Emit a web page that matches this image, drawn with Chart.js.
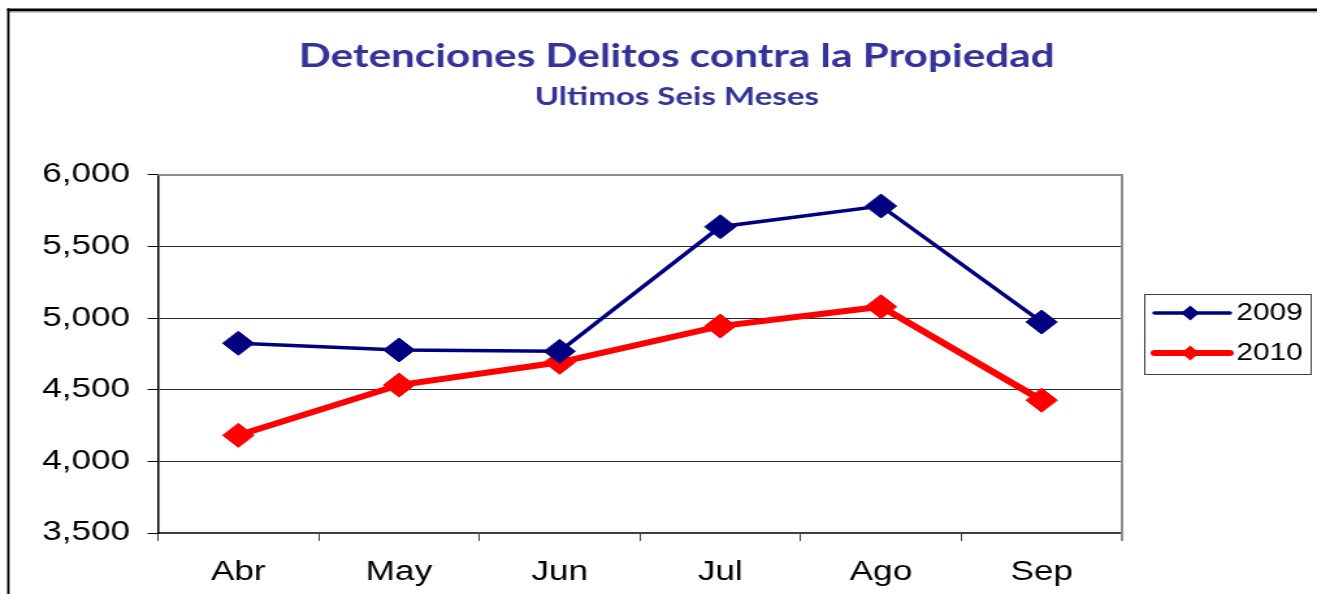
<!DOCTYPE html>
<html>
<head>
<meta charset="utf-8">
<script src="https://cdn.jsdelivr.net/npm/chart.js@4/dist/chart.umd.min.js"></script>
<style>
  html, body { margin: 0; padding: 0; background: #fff; overflow: hidden; }
  /* the original picture is stretched sideways, so the chart is drawn narrower and widened */
  #wrap { width: 1013px; height: 594px; transform: scaleX(1.3001); transform-origin: 0 0; }
</style>
</head>
<body>
<div id="wrap"><canvas id="chart"></canvas></div>
<script>
const months = ["Abr", "May", "Jun", "Jul", "Ago", "Sep"];
const values2009 = [4825, 4778, 4769, 5639, 5783, 4973];
const values2010 = [4182, 4533, 4692, 4945, 5080, 4427];
const seriesNames = ["2009", "2010"];
const yMin = 3500;
const yMax = 6000;
const yStep = 500;

const titleText = "Detenciones Delitos contra la Propiedad";
const subtitleText = "Ultimos Seis Meses";

const frame = {
  id: "frame",
  beforeDraw(chart) {
    const c = chart.ctx;
    c.save();
    c.fillStyle = "#fff";
    c.fillRect(0, 0, chart.width, chart.height);
    // outer border (only top and left show in the picture)
    c.fillStyle = "#9a9a9a";
    c.fillRect(6, 11, chart.width, 1.5);
    c.fillStyle = "#000";
    c.fillRect(5.5, 8.5, chart.width, 2.5);
    c.fillRect(5.5, 8.5, 1.8, chart.height);
    c.restore();
  },
  afterDraw(chart) {
    const c = chart.ctx;
    const a = chart.chartArea;
    c.save();
    c.strokeStyle = "#8c8c8c";
    c.lineWidth = 2;
    c.beginPath();
    c.moveTo(a.left, a.top);
    c.lineTo(a.right, a.top);
    c.lineTo(a.right, a.bottom + 8);
    c.stroke();

    // legend box
    c.strokeStyle = "#404040";
    c.lineWidth = 1;
    c.strokeRect(880.5, 294.5, 128, 80);
    const rows = [313, 353];
    chart.data.datasets.forEach((ds, i) => {
      const y = rows[i];
      c.strokeStyle = ds.borderColor;
      c.lineWidth = ds.borderWidth;
      c.lineCap = "round";
      c.beginPath();
      c.moveTo(888, y);
      c.lineTo(946, y);
      c.stroke();
      c.fillStyle = ds.pointBackgroundColor;
      c.beginPath();
      c.moveTo(915.5 - 7, y);
      c.lineTo(915.5, y - 7.5);
      c.lineTo(915.5 + 7, y);
      c.lineTo(915.5, y + 7.5);
      c.closePath();
      c.fill();
      c.fillStyle = "#000";
      c.font = "23px 'Liberation Sans', Arial, sans-serif";
      c.textBaseline = "middle";
      c.textAlign = "left";
      c.fillText(ds.label, 951, y + 1);
    });
    c.restore();
  }
};

new Chart(document.getElementById("chart"), {
  type: "line",
  data: {
    labels: months,
    datasets: [
      {
        label: seriesNames[0],
        data: values2009,
        borderColor: "#000080",
        backgroundColor: "#000080",
        pointBackgroundColor: "#000080",
        pointBorderColor: "#000080",
        borderWidth: 3.5,
        pointStyle: "rectRot",
        pointRadius: 12,
        pointBorderWidth: 1,
        tension: 0
      },
      {
        label: seriesNames[1],
        data: values2010,
        borderColor: "#ff0000",
        backgroundColor: "#ff0000",
        pointBackgroundColor: "#ff0000",
        pointBorderColor: "#ff0000",
        borderWidth: 6,
        pointStyle: "rectRot",
        pointRadius: 12,
        pointBorderWidth: 1,
        tension: 0
      }
    ]
  },
  options: {
    responsive: true,
    maintainAspectRatio: false,
    animation: false,
    layout: { padding: { left: 28, right: 0, top: 0, bottom: 0 } },
    plugins: {
      legend: { display: false },
      tooltip: { enabled: false },
      title: {
        display: true,
        text: titleText,
        color: "#333399",
        font: { family: "Lato", size: 32.5, weight: "bold", lineHeight: 1.2 },
        padding: { top: 37.2, bottom: 0 }
      },
      subtitle: {
        display: true,
        text: subtitleText,
        color: "#333399",
        font: { family: "Lato", size: 25.4, weight: "bold", lineHeight: 1.2 },
        padding: { top: 5.5, bottom: 62.8 }
      }
    },
    scales: {
      x: {
        offset: true,
        afterFit(scale) { scale.height = 61; },
        grid: {
          offset: true,
          drawOnChartArea: false,
          drawTicks: true,
          tickLength: 8,
          tickColor: "#404040"
        },
        border: { display: true, color: "#404040", width: 2 },
        ticks: {
          color: "#000",
          padding: 15,
          font: { family: "'Liberation Sans', Arial, sans-serif", size: 27 }
        }
      },
      y: {
        min: yMin,
        max: yMax,
        afterFit(scale) { scale.width = 93.5; },
        grid: {
          color: (ctx) => (ctx.tick && ctx.tick.value === yMax ? "#8c8c8c" : "#2b2b2b"),
          lineWidth: 1,
          drawTicks: true,
          tickLength: 8,
          tickColor: "#000"
        },
        border: { display: true, color: "#000", width: 1.5 },
        ticks: {
          stepSize: yStep,
          color: "#000",
          padding: 13.5,
          font: { family: "'Liberation Sans', Arial, sans-serif", size: 27 }
        }
      },
      // empty right-hand axis that keeps room for the legend
      yRoom: {
        position: "right",
        min: yMin,
        max: yMax,
        afterFit(scale) { scale.width = 150; },
        grid: { display: false },
        border: { display: false },
        ticks: { display: false }
      }
    }
  },
  plugins: [frame]
});
</script>
</body>
</html>
